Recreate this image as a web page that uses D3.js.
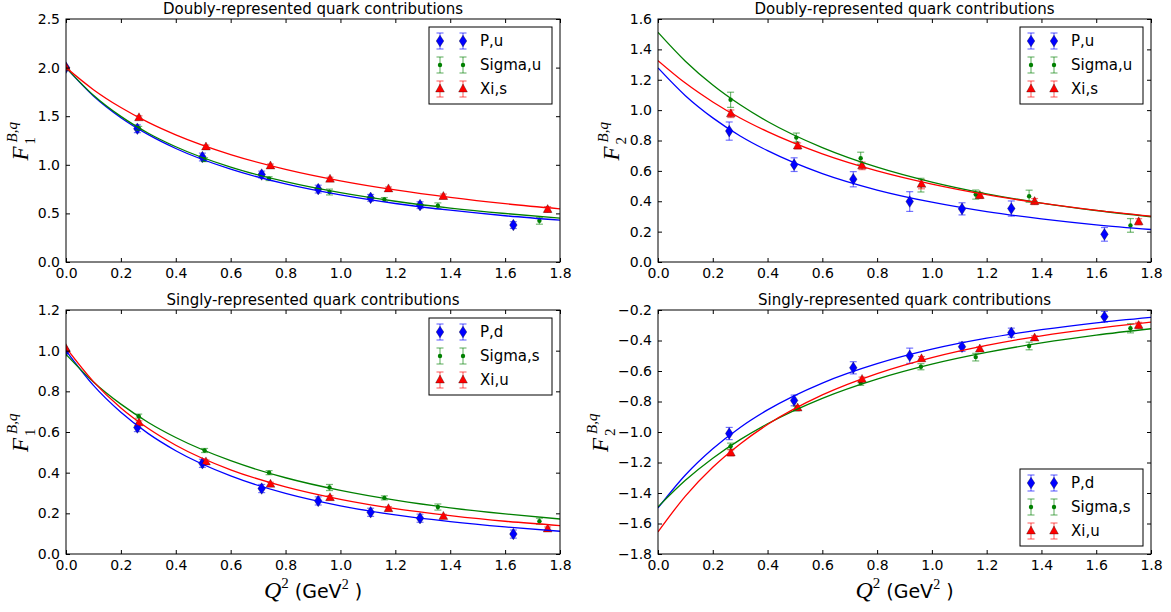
<!DOCTYPE html>
<html>
<head>
<meta charset="utf-8">
<script src="https://cdn.jsdelivr.net/npm/d3@7"></script>
<style>
  body { margin: 0; background: #fff; }
  .tick text { font-family: "DejaVu Sans", sans-serif; font-size: 14px; fill: #000; }
  .title { font-family: "DejaVu Sans", sans-serif; font-size: 15px; fill: #000; }
  .legend text { font-family: "DejaVu Sans", sans-serif; font-size: 15px; fill: #000; }
  .math { font-family: "Liberation Serif", serif; fill: #000; }
</style>
</head>
<body>
<div id="chart"></div>
<script>
// --- Q^2 values of the lattice points (GeV^2) ---
const q2P = [0.26, 0.497, 0.713, 0.919, 1.11, 1.29, 1.63];
const q2Sigma = [0.265, 0.505, 0.74, 0.96, 1.16, 1.355, 1.725];
const q2Xi = [0.266, 0.51, 0.745, 0.962, 1.175, 1.375, 1.755];
// F1 panels also have the normalisation point at Q^2 = 0
const q2P0 = [0, 0.26, 0.497, 0.713, 0.919, 1.11, 1.29, 1.63];
const q2Sigma0 = [0, 0.265, 0.505, 0.74, 0.96, 1.16, 1.355, 1.725];
const q2Xi0 = [0, 0.266, 0.51, 0.745, 0.962, 1.175, 1.375, 1.755];

// F1, doubly-represented
const f1dP = [2.0, 1.371, 1.08, 0.90, 0.75, 0.66, 0.585, 0.38];
const f1dPErr = [0, 0.04, 0.04, 0.035, 0.04, 0.035, 0.035, 0.035];
const f1dSigma = [2.0, 1.375, 1.053, 0.858, 0.72, 0.643, 0.578, 0.424];
const f1dSigmaErr = [0, 0.02, 0.02, 0.02, 0.03, 0.02, 0.03, 0.035];
const f1dXi = [2.0, 1.484, 1.183, 0.988, 0.852, 0.752, 0.674, 0.54];
const f1dXiErr = [0, 0.02, 0.02, 0.02, 0.02, 0.02, 0.025, 0.03];

// F2, doubly-represented
const f2dP = [0.862, 0.641, 0.545, 0.398, 0.35, 0.352, 0.182];
const f2dPErr = [0.06, 0.045, 0.05, 0.065, 0.04, 0.05, 0.045];
const f2dSigma = [1.068, 0.819, 0.683, 0.506, 0.444, 0.433, 0.241];
const f2dSigmaErr = [0.05, 0.03, 0.04, 0.045, 0.03, 0.04, 0.045];
const f2dXi = [0.976, 0.764, 0.633, 0.512, 0.438, 0.398, 0.265];
const f2dXiErr = [0.025, 0.02, 0.025, 0.03, 0.02, 0.02, 0.02];

// F1, singly-represented
const f1sP = [1.0, 0.622, 0.446, 0.322, 0.261, 0.205, 0.176, 0.098];
const f1sPErr = [0, 0.02, 0.02, 0.02, 0.02, 0.02, 0.02, 0.02];
const f1sSigma = [1.0, 0.678, 0.509, 0.40, 0.327, 0.276, 0.231, 0.161];
const f1sSigmaErr = [0, 0.01, 0.01, 0.01, 0.015, 0.01, 0.015, 0.015];
const f1sXi = [1.01, 0.645, 0.453, 0.343, 0.277, 0.223, 0.185, 0.123];
const f1sXiErr = [0, 0.01, 0.01, 0.01, 0.01, 0.01, 0.01, 0.01];

// F2, singly-represented
const f2sP = [-1.01, -0.793, -0.579, -0.50, -0.441, -0.349, -0.244];
const f2sPErr = [0.04, 0.035, 0.04, 0.05, 0.03, 0.03, 0.035];
const f2sSigma = [-1.093, -0.846, -0.679, -0.572, -0.509, -0.436, -0.32];
const f2sSigmaErr = [0.02, 0.015, 0.015, 0.02, 0.025, 0.025, 0.03];
const f2sXi = [-1.137, -0.843, -0.655, -0.52, -0.456, -0.384, -0.301];
const f2sXiErr = [0.02, 0.015, 0.015, 0.015, 0.015, 0.015, 0.02];

const fitQ2 = [0, 0.1, 0.2, 0.3, 0.4, 0.6, 0.8, 1.0, 1.2, 1.4, 1.6, 1.8];
const fitF1dP = [2.0, 1.708, 1.485, 1.31, 1.168, 0.955, 0.803, 0.69, 0.602, 0.533, 0.476, 0.43];
const fitF1dSigma = [2.0, 1.716, 1.498, 1.325, 1.186, 0.976, 0.826, 0.713, 0.625, 0.555, 0.499, 0.452];
const fitF1dXi = [2.0, 1.773, 1.589, 1.436, 1.308, 1.105, 0.953, 0.835, 0.741, 0.664, 0.60, 0.547];
const fitF2dP = [1.278, 1.095, 0.949, 0.83, 0.733, 0.582, 0.474, 0.394, 0.332, 0.284, 0.245, 0.214];
const fitF2dSigma = [1.512, 1.322, 1.165, 1.035, 0.925, 0.753, 0.624, 0.526, 0.449, 0.388, 0.339, 0.298];
const fitF2dXi = [1.326, 1.178, 1.054, 0.948, 0.858, 0.712, 0.60, 0.513, 0.443, 0.387, 0.34, 0.302];
const fitF1sP = [1.0, 0.829, 0.697, 0.592, 0.508, 0.384, 0.298, 0.237, 0.192, 0.159, 0.133, 0.112];
const fitF1sSigma = [0.982, 0.846, 0.737, 0.647, 0.573, 0.459, 0.375, 0.313, 0.265, 0.227, 0.197, 0.172];
const fitF1sXi = [1.015, 0.848, 0.718, 0.617, 0.535, 0.414, 0.33, 0.269, 0.223, 0.189, 0.161, 0.14];
const fitF2sP = [-1.498, -1.282, -1.11, -0.97, -0.855, -0.679, -0.552, -0.457, -0.385, -0.329, -0.284, -0.248];
const fitF2sSigma = [-1.491, -1.317, -1.172, -1.05, -0.946, -0.779, -0.653, -0.555, -0.478, -0.416, -0.365, -0.323];
const fitF2sXi = [-1.655, -1.42, -1.231, -1.078, -0.951, -0.757, -0.617, -0.512, -0.432, -0.369, -0.32, -0.279];

const xTicks = [0, 0.2, 0.4, 0.6, 0.8, 1.0, 1.2, 1.4, 1.6, 1.8];

// --- styles ---
const BLUE = "#0000ff", GREEN = "#008000", RED = "#ff0000";
const DIAMOND = "M0,-5.8L3.8,0L0,5.8L-3.8,0Z";
const TRIANGLE = "M0,-5L4.4,3L-4.4,3Z";

const width = 1171, height = 612;
const svg = d3.select("#chart").append("svg")
  .attr("width", width).attr("height", height)
  .style("display", "block");
svg.append("rect").attr("width", width).attr("height", height).attr("fill", "#fff");

function series(label, q2, vals, errs, fitVals, color, marker) {
  return { label, q2, vals, errs, fitVals, color, marker };
}

const panels = [
  {
    left: 66, top: 19, w: 494, h: 243, yDomain: [0, 2.5], yStep: 0.5, sub: "1", ylabelX: -38,
    title: "Doubly-represented quark contributions", legend: "upper", xlabel: false,
    series: [
      series("P,u", q2P0, f1dP, f1dPErr, fitF1dP, BLUE, "diamond"),
      series("Sigma,u", q2Sigma0, f1dSigma, f1dSigmaErr, fitF1dSigma, GREEN, "dot"),
      series("Xi,s", q2Xi0, f1dXi, f1dXiErr, fitF1dXi, RED, "triangle")
    ]
  },
  {
    left: 658, top: 19, w: 493, h: 243, yDomain: [0, 1.6], yStep: 0.2, sub: "2", ylabelX: -39,
    title: "Doubly-represented quark contributions", legend: "upper", xlabel: false,
    series: [
      series("P,u", q2P, f2dP, f2dPErr, fitF2dP, BLUE, "diamond"),
      series("Sigma,u", q2Sigma, f2dSigma, f2dSigmaErr, fitF2dSigma, GREEN, "dot"),
      series("Xi,s", q2Xi, f2dXi, f2dXiErr, fitF2dXi, RED, "triangle")
    ]
  },
  {
    left: 66, top: 310, w: 494, h: 244, yDomain: [0, 1.2], yStep: 0.2, sub: "1", ylabelX: -38,
    title: "Singly-represented quark contributions", legend: "upper", xlabel: true,
    series: [
      series("P,d", q2P0, f1sP, f1sPErr, fitF1sP, BLUE, "diamond"),
      series("Sigma,s", q2Sigma0, f1sSigma, f1sSigmaErr, fitF1sSigma, GREEN, "dot"),
      series("Xi,u", q2Xi0, f1sXi, f1sXiErr, fitF1sXi, RED, "triangle")
    ]
  },
  {
    left: 658, top: 310, w: 493, h: 244, yDomain: [-1.8, -0.2], yStep: 0.2, sub: "2", ylabelX: -50,
    title: "Singly-represented quark contributions", legend: "lower", xlabel: true,
    series: [
      series("P,d", q2P, f2sP, f2sPErr, fitF2sP, BLUE, "diamond"),
      series("Sigma,s", q2Sigma, f2sSigma, f2sSigmaErr, fitF2sSigma, GREEN, "dot"),
      series("Xi,u", q2Xi, f2sXi, f2sXiErr, fitF2sXi, RED, "triangle")
    ]
  }
];

// draw one marker (with its error bar) at (cx, cy) in pixels
function drawMarker(g, s, cx, cy, yA, yB) {
  if (Math.abs(yA - yB) > 0.5) {
    const eb = g.append("g").attr("stroke", s.color).attr("stroke-opacity", 0.55).attr("stroke-width", 1.2);
    eb.append("line").attr("x1", cx).attr("x2", cx).attr("y1", yA).attr("y2", yB);
    eb.append("line").attr("x1", cx - 3.5).attr("x2", cx + 3.5).attr("y1", yA).attr("y2", yA);
    eb.append("line").attr("x1", cx - 3.5).attr("x2", cx + 3.5).attr("y1", yB).attr("y2", yB);
  }
  if (s.marker === "dot") {
    g.append("circle").attr("cx", cx).attr("cy", cy).attr("r", 2.2).attr("fill", s.color);
  } else {
    g.append("path")
      .attr("d", s.marker === "diamond" ? DIAMOND : TRIANGLE)
      .attr("transform", `translate(${cx},${cy})`)
      .attr("fill", s.color)
      .attr("stroke", "#000").attr("stroke-width", 0.5).attr("stroke-opacity", 0.6);
  }
}

panels.forEach((p, i) => {
  const g = svg.append("g").attr("transform", `translate(${p.left},${p.top})`);
  const x = d3.scaleLinear().domain([0, 1.8]).range([0, p.w]);
  const y = d3.scaleLinear().domain(p.yDomain).range([p.h, 0]);
  const yTicks = d3.range(p.yDomain[0], p.yDomain[1] + p.yStep / 2, p.yStep);

  const clipId = "clip" + i;
  g.append("clipPath").attr("id", clipId)
    .append("rect").attr("width", p.w).attr("height", p.h);

  const plot = g.append("g").attr("clip-path", `url(#${clipId})`);

  // data points with error bars
  p.series.forEach((s) => {
    const sg = plot.append("g");
    s.q2.forEach((q, k) => {
      drawMarker(sg, s, x(q), y(s.vals[k]), y(s.vals[k] - s.errs[k]), y(s.vals[k] + s.errs[k]));
    });
  });

  // fit curves
  const line = d3.line()
    .x((d) => x(d[0]))
    .y((d) => y(d[1]))
    .curve(d3.curveMonotoneX);
  p.series.forEach((s) => {
    plot.append("path")
      .datum(fitQ2.map((q, k) => [q, s.fitVals[k]]))
      .attr("d", line)
      .attr("fill", "none")
      .attr("stroke", s.color)
      .attr("stroke-width", 1.3);
  });

  // axes, ticks pointing inward on all four sides
  const fmt = d3.format(".1f");
  g.append("g").attr("transform", `translate(0,${p.h})`)
    .call(d3.axisBottom(x).tickValues(xTicks).tickFormat(fmt).tickSizeInner(-4).tickSizeOuter(0).tickPadding(6));
  g.append("g")
    .call(d3.axisTop(x).tickValues(xTicks).tickFormat("").tickSizeInner(-4).tickSizeOuter(0));
  g.append("g")
    .call(d3.axisLeft(y).tickValues(yTicks).tickFormat(fmt).tickSizeInner(-4).tickSizeOuter(0).tickPadding(6));
  g.append("g").attr("transform", `translate(${p.w},0)`)
    .call(d3.axisRight(y).tickValues(yTicks).tickFormat("").tickSizeInner(-4).tickSizeOuter(0));
  g.selectAll(".domain").remove();
  g.selectAll(".tick line").attr("stroke", "#000");

  g.append("rect").attr("width", p.w).attr("height", p.h)
    .attr("fill", "none").attr("stroke", "#000").attr("stroke-width", 1);

  // title
  g.append("text").attr("class", "title")
    .attr("x", p.w / 2).attr("y", -5)
    .attr("text-anchor", "middle")
    .text(p.title);

  // y label F_n^{B,q}
  const yl = g.append("g")
    .attr("transform", `translate(${p.ylabelX},${p.h / 2}) rotate(-90)`);
  yl.append("text").attr("class", "math").attr("x", -20).attr("y", 0)
    .attr("font-size", 23).attr("font-style", "italic").text("F");
  yl.append("text").attr("class", "math").attr("x", -4).attr("y", 7)
    .attr("font-size", 15).text(p.sub);
  yl.append("text").attr("class", "math").attr("x", -2).attr("y", -11)
    .attr("font-size", 15).attr("font-style", "italic").text("B,q");

  // x label
  if (p.xlabel) {
    const xl = g.append("text").attr("x", p.w / 2).attr("y", p.h + 44)
      .attr("text-anchor", "middle");
    xl.append("tspan").attr("class", "math").attr("font-size", 24).attr("font-style", "italic").text("Q");
    xl.append("tspan").attr("class", "math").attr("font-size", 15).attr("dy", -10).text("2");
    xl.append("tspan").attr("font-family", "DejaVu Sans").attr("font-size", 19).attr("dy", 10).text(" (GeV");
    xl.append("tspan").attr("class", "math").attr("font-size", 14).attr("dy", -9).text("2");
    xl.append("tspan").attr("font-family", "DejaVu Sans").attr("font-size", 19).attr("dy", 9).text(" )");
  }

  // legend
  const lw = 123, lh = 77;
  const lx = p.w - 8 - lw;
  const ly = p.legend === "upper" ? 8 : p.h - 8 - lh;
  const lg = g.append("g").attr("class", "legend").attr("transform", `translate(${lx},${ly})`);
  lg.append("rect").attr("width", lw).attr("height", lh)
    .attr("fill", "#fff").attr("stroke", "#000").attr("stroke-width", 1);
  p.series.forEach((s, k) => {
    const ry = 14 + k * 24;
    [11, 34].forEach((mx) => drawMarker(lg, s, mx, ry, ry + 8, ry - 8));
    lg.append("text").attr("x", 51).attr("y", ry).attr("dy", "0.36em").text(s.label);
  });
});
</script>
</body>
</html>
